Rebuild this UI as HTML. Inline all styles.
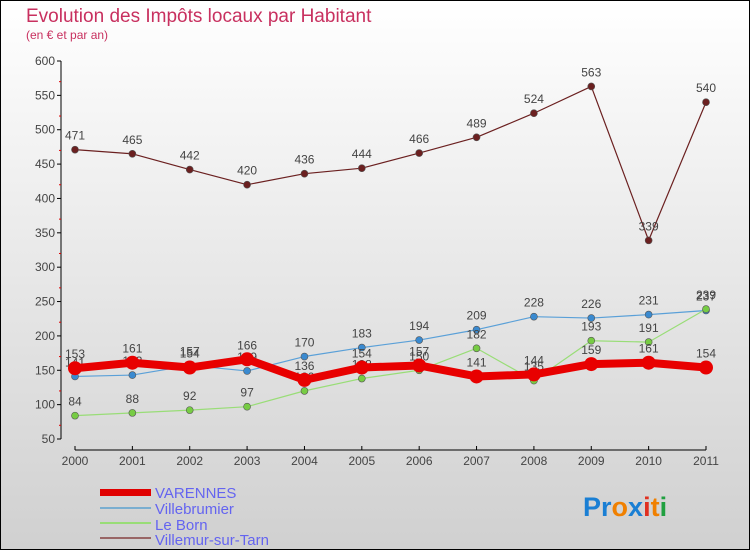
<!DOCTYPE html>
<html><head><meta charset="utf-8"><style>
html,body{margin:0;padding:0}
body{width:750px;height:550px;overflow:hidden;font-family:"Liberation Sans",sans-serif}
svg{display:block}
</style></head><body>
<svg id="chart" width="750" height="550" viewBox="0 0 750 550" xmlns="http://www.w3.org/2000/svg">
<defs>
<linearGradient id="bg" x1="0" y1="0" x2="0" y2="1">
<stop offset="0" stop-color="#ffffff"/><stop offset="1" stop-color="#d0d0d0"/>
</linearGradient>
</defs>
<rect x="0.5" y="0.5" width="749" height="549" fill="url(#bg)" stroke="#000"/>
<text x="26" y="22" font-size="19" fill="#c8305f">Evolution des Impôts locaux par Habitant</text>
<text x="26" y="39" font-size="12" fill="#c8305f">(en € et par an)</text>
<g id="axes"></g>
<g id="series"></g>
<g id="legend">
<rect x="100" y="489" width="51" height="7" fill="#e00000"/>
<text x="155" y="498" font-size="15" fill="#6464f0">VARENNES</text>
<rect x="100" y="507" width="51" height="2" fill="#7aaed0"/>
<text x="155" y="514" font-size="15" fill="#6464f0">Villebrumier</text>
<rect x="100" y="522" width="51" height="2" fill="#99dd77"/>
<text x="155" y="530" font-size="15" fill="#6464f0">Le Born</text>
<rect x="100" y="537" width="51" height="2" fill="#996666"/>
<text x="155" y="545" font-size="15" fill="#6464f0">Villemur-sur-Tarn</text>
</g>
<text x="583" y="516" font-size="27" font-weight="bold"><tspan fill="#1a7fd4">Pr</tspan><tspan fill="#f08000">o</tspan><tspan fill="#1a7fd4">x</tspan><tspan fill="#e03020">i</tspan><tspan fill="#f08000">t</tspan><tspan fill="#20a040">i</tspan></text>
</svg>
<script>
const years = [2000,2001,2002,2003,2004,2005,2006,2007,2008,2009,2010,2011];
const yTicks = [50,100,150,200,250,300,350,400,450,500,550,600];
const varennes = [153,161,154,166,136,154,157,141,144,159,161,154];
const villebrumier = [141,143,157,149,170,183,194,209,228,226,231,237];
const leBorn = [84,88,92,97,120,138,150,182,135,193,191,239];
const villemur = [471,465,442,420,436,444,466,489,524,563,339,540];

const NS = "http://www.w3.org/2000/svg";
function xPos(i){ return 75 + i*(706-75)/(years.length-1); }
function yPos(v){ return 439 - (v-50)*(439-61)/550; }
function mk(tag, attrs, parent){
  const e = document.createElementNS(NS, tag);
  for (const k in attrs) e.setAttribute(k, attrs[k]);
  parent.appendChild(e); return e;
}
const axes = document.getElementById('axes');
const series = document.getElementById('series');
let e;
e = mk('line',{x1:61,y1:61,x2:61,y2:439,stroke:'#000','stroke-width':1},axes);


e = mk('line',{x1:75,y1:450,x2:706,y2:450,stroke:'#000','stroke-width':1},axes);


yTicks.forEach(v=>{
  const y = yPos(v);
  e = mk('line',{x1:57,y1:y,x2:61,y2:y,stroke:'#000'},axes);
  
  
  if (v<600){
    e = mk('line',{x1:59,y1:y-13.7,x2:61,y2:y-13.7,stroke:'#e00000'},axes);
    
    
  }
  e = mk('text',{x:55,y:y+4,'font-size':12,'text-anchor':'end',fill:'#444'},axes);
  e.textContent = v;
  
  
});
years.forEach((yr,i)=>{
  const x = xPos(i);
  e = mk('line',{x1:x,y1:446,x2:x,y2:450,stroke:'#000'},axes);
  
  
  e = mk('text',{x:x,y:465,'font-size':12,'text-anchor':'middle',fill:'#444'},axes);
  e.textContent = yr;
  
  
});
function drawSeries(vals, name, color, dot, width, r){
  const g = mk('g',{},series);
  
  
  const pts = vals.map((v,i)=>xPos(i)+','+yPos(v)).join(' ');
  e = mk('polyline',{points:pts,fill:'none',stroke:color,'stroke-width':width,'stroke-linejoin':'round'},g);
  
  
  vals.forEach((v,i)=>{
    e = mk('circle',{cx:xPos(i),cy:yPos(v),r:r,fill:dot,stroke:'#555','stroke-width':r>5?0:0.6},g);
    
    
    e = mk('text',{x:xPos(i),y:yPos(v)-10,'font-size':12,'text-anchor':'middle',fill:'#444'},g);
    e.textContent = v;
    
    
  });
}
drawSeries(villemur,'villemur','#6b2020','#6b2020',1.2,3.5);
drawSeries(villebrumier,'villebrumier','#5aa0d8','#3a8ad0',1.2,3.5);
drawSeries(leBorn,'le-born','#99dd77','#77cc44',1.2,3.5);
drawSeries(varennes,'varennes','#e80000','#e80000',8,7);
</script>
</body></html>
